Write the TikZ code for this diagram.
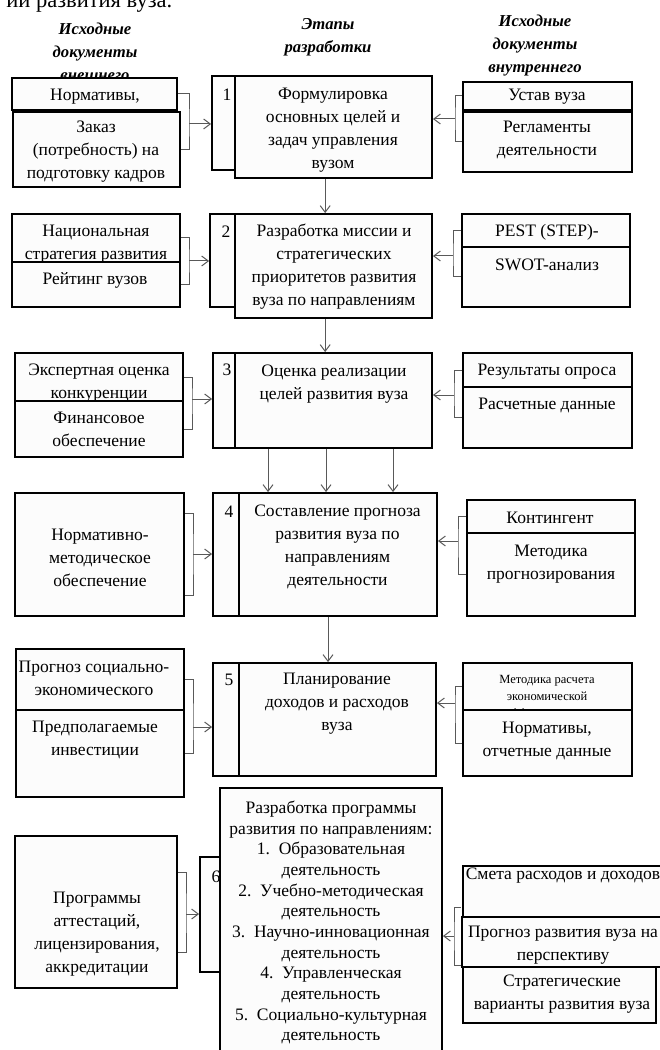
\documentclass[tikz,border=0pt]{standalone}
\usepackage{fontspec}
\setmainfont{Liberation Serif}
\usetikzlibrary{fit,calc,arrows.meta}

\begin{document}
\begin{tikzpicture}[x=0.6pt,y=-0.6pt,
		doc/.style={draw,line width=1.5pt,fill=black!1,inner sep=0pt},
		stage/.style={draw,line width=1.1pt,fill=black!1,inner sep=0pt},
		txt/.style={align=center,inner sep=0pt,font=\fontsize{10.5}{13.8}\selectfont},
		small/.style={align=center,inner sep=0pt,font=\fontsize{7.5}{10.2}\selectfont},
		head/.style={align=center,inner sep=0pt,font=\fontsize{10}{13.8}\selectfont\bfseries\itshape},
		brk/.style={line width=0.6pt,draw=black!65},
		arr/.style={line width=0.6pt,draw=black!65,-{Straight Barb[length=4pt,width=6pt]}}]
			\useasboundingbox (0,0) rectangle (659,1050);

			\node[anchor=base west,inner sep=0pt,font=\fontsize{13.5}{16}\selectfont] (title) at (6,8) {ии развития вуза.};

			\node[head] (h1) at (95,52) {Исходные\\документы\\внешнего};
			\node[head] (h2) at (328,37.5) {Этапы\\разработки};
			\node[head] (h3) at (535,46) {Исходные\\документы\\внутреннего};

			\node[doc,fit={(12,78)(177,110)}] (a1) {};
			\node[txt] (ta1) at (95,97) {Нормативы,};
			\node[doc,fit={(13,112)(180,187)}] (a2) {};
			\node[txt] (ta2) at (96,152) {Заказ\\(потребность) на\\подготовку кадров};
			\node[stage,fit={(212,76)(235,170)}] (c1) {};
			\node[txt] (n1) at (227,95) {1};
			\node[stage,fit={(235,76)(432,178)}] (s1) {};
			\node[txt] (ts1) at (333,130.5) {Формулировка\\основных целей и\\задач управления\\вузом};
			\node[doc,fit={(463,82)(632,110)}] (r1) {};
			\node[txt] (tr1) at (547,97) {Устав вуза};
			\node[doc,fit={(463,112)(632,172)}] (r2) {};
			\node[txt] (tr2) at (547,140) {Регламенты\\деятельности};
			\coordinate (q1) at (189,124);
			\coordinate (q2) at (455,119);
			\draw[brk] (a1.east) -| (q1) |- (a2.east);
			\draw[arr] (q1) -- (q1 -| c1.west);
			\draw[brk] (r1.west) -| (q2) |- (r2.west);
			\draw[arr] (q2) -- (q2 -| s1.east);

			\node[doc,fit={(12,214)(180,262)}] (l3) {};
			\node[txt] (tl3) at (96,244) {Национальная\\стратегия развития};
			\node[doc,fit={(12,262)(180,307)}] (l4) {};
			\node[txt] (tl4) at (95,280) {Рейтинг вузов};
			\node[stage,fit={(210,214)(235,307)}] (c2) {};
			\node[txt] (n2) at (226,232) {2};
			\node[stage,fit={(235,214)(432,318)}] (s2) {};
			\node[txt] (ts2) at (334,267) {Разработка миссии и\\стратегических\\приоритетов развития\\вуза по направлениям};
			\node[doc,fit={(462,214)(630,247)}] (r3) {};
			\node[txt] (tr3) at (547,232) {PEST (STEP)-};
			\node[doc,fit={(462,247)(630,307)}] (r4) {};
			\node[txt] (tr4) at (547,265) {SWOT-анализ};
			\coordinate (q3) at (189,261);
			\coordinate (q4) at (453,256);
			\draw[brk] (l3.east) -| (q3) |- (l4.east);
			\draw[arr] (q3) -- (q3 -| c2.west);
			\draw[brk] (r3.west) -| (q4) |- (r4.west);
			\draw[arr] (q4) -- (q4 -| s2.east);
			\draw[arr] ([xshift=-5pt]s1.south) -- ([xshift=-5pt]s1.south |- s2.north);

			\node[doc,fit={(15,353)(183,401)}] (l5) {};
			\node[txt] (tl5) at (99,383.5) {Экспертная оценка\\конкуренции};
			\node[doc,fit={(15,401)(183,457)}] (l6) {};
			\node[txt] (tl6) at (99,429) {Финансовое\\обеспечение};
			\node[stage,fit={(213,353)(235,448)}] (c3) {};
			\node[txt] (n3) at (227,370) {3};
			\node[stage,fit={(235,353)(432,448)}] (s3) {};
			\node[txt] (ts3) at (334,384.5) {Оценка реализации\\целей развития вуза};
			\node[doc,fit={(463,353)(632,387)}] (r5) {};
			\node[txt] (tr5) at (547,372) {Результаты опроса};
			\node[doc,fit={(463,387)(632,448)}] (r6) {};
			\node[txt] (tr6) at (547,405) {Расчетные данные};
			\coordinate (q5) at (192,399);
			\coordinate (q6) at (454,395);
			\draw[brk] (l5.east) -| (q5) |- (l6.east);
			\draw[arr] (q5) -- (q5 -| c3.west);
			\draw[brk] (r5.west) -| (q6) |- (r6.west);
			\draw[arr] (q6) -- (q6 -| s3.east);
			\draw[arr] ([xshift=-5pt]s2.south) -- ([xshift=-5pt]s2.south |- s3.north);

			\node[doc,fit={(15,493)(184,616)}] (l7) {};
			\node[txt] (tl7) at (100,558) {Нормативно-\\методическое\\обеспечение};
			\node[stage,fit={(213,493)(239,616)}] (c4) {};
			\node[txt] (n4) at (229,512) {4};
			\node[stage,fit={(239,493)(437,616)}] (s4) {};
			\node[txt] (ts4) at (337.5,547) {Составление прогноза\\развития вуза по\\направлениям\\деятельности};
			\node[doc,fit={(467,500)(635,533)}] (r7) {};
			\node[txt] (tr7) at (550,518) {Контингент};
			\node[doc,fit={(467,533)(635,616)}] (r8) {};
			\node[txt] (tr8) at (551,564.5) {Методика\\прогнозирования};
			\coordinate (q7) at (193,554);
			\coordinate (q8) at (458,541);
			\draw[brk] ($(l7.east)+(0,-41)$) -| (q7) |- ($(l7.east)+(0,41)$);
			\draw[arr] (q7) -- (q7 -| c4.west);
			\draw[brk] (r7.west) -| (q8) |- (r8.west);
			\draw[arr] (q8) -- (q8 -| s4.east);
			\draw[arr] ([xshift=-39.3pt]s3.south) -- ([xshift=-39.3pt]s3.south |- s4.north);
			\draw[arr] ([xshift=-4.5pt]s3.south) -- ([xshift=-4.5pt]s3.south |- s4.north);
			\draw[arr] ([xshift=35.7pt]s3.south) -- ([xshift=35.7pt]s3.south |- s4.north);

			\node[doc,fit={(16,649)(184,710)}] (l9) {};
			\node[txt] (tl9) at (94,678.5) {Прогноз социально-\\экономического};
			\node[doc,fit={(16,710)(184,797)}] (l10) {};
			\node[txt] (tl10) at (95,740) {Предполагаемые\\инвестиции};
			\node[stage,fit={(213,663)(239,776)}] (c5) {};
			\node[txt] (n5) at (229,680) {5};
			\node[stage,fit={(239,663)(436,776)}] (s5) {};
			\node[txt] (ts5) at (337,703.5) {Планирование\\доходов и расходов\\вуза};
			\node[doc,fit={(463,663)(632,710)}] (r9) {};
			\node[small] (tr9) at (547,698) {Методика расчета\\экономической\\эффективности};
			\node[doc,fit={(463,710)(632,776)}] (r10) {};
			\node[txt] (tr10) at (547,741) {Нормативы,\\отчетные данные};
			\coordinate (q9) at (193,727);
			\coordinate (q10) at (455,703);
			\draw[brk] (l9.east) -| (q9) |- (l10.east);
			\draw[arr] (q9) -- (q9 -| c5.west);
			\draw[brk] (r9.west) -| (q10) |- (r10.west);
			\draw[arr] (q10) -- (q10 -| s5.east);
			\draw[arr] ([xshift=-6pt]s4.south) -- ([xshift=-6pt]s4.south |- s5.north);

			\node[doc,fit={(15,836)(177,988)}] (l11) {};
			\node[txt] (tl11) at (97,934.5) {Программы\\аттестаций,\\лицензирования,\\аккредитации};
			\node[stage,fit={(200,857)(220,972)}] (c6) {};
			\node[txt] (n6) at (216,877) {6};
			\node[stage,fit={(220,788)(442,1065)}] (s6) {};
			\node[txt,font=\fontsize{10.5}{12.4}\selectfont] (ts6) at (331,922.5) {Разработка программы\\развития по направлениям:\\1.~~Образовательная\\деятельность\\2.~~Учебно-методическая\\деятельность\\3.~~Научно-инновационная\\деятельность\\4.~~Управленческая\\деятельность\\5.~~Социально-культурная\\деятельность};
			\node[doc,fit={(463,866)(665,917)}] (r11) {};
			\node[txt] (tr11) at (563,876) {Смета расходов и доходов};
			\node[doc,fit={(462,917)(665,967)}] (r12) {};
			\node[txt] (tr12) at (563,945.5) {Прогноз развития вуза на\\перспективу};
			\node[doc,fit={(463,967)(656,1023)}] (r13) {};
			\node[txt] (tr13) at (562,994.5) {Стратегические\\варианты развития вуза};
			\coordinate (q11) at (186,914);
			\coordinate (q12) at (454,936);
			\draw[brk] ($(l11.east)+(0,-40)$) -| (q11) |- ($(l11.east)+(0,40)$);
			\draw[arr] (q11) -- (q11 -| c6.west);
			\draw[brk] ($(r12.west)+(0,-35)$) -| (q12) |- ($(r12.west)+(0,23)$);
			\draw[arr] (q12) -- (q12 -| s6.east);
		\end{tikzpicture}
\end{document}
